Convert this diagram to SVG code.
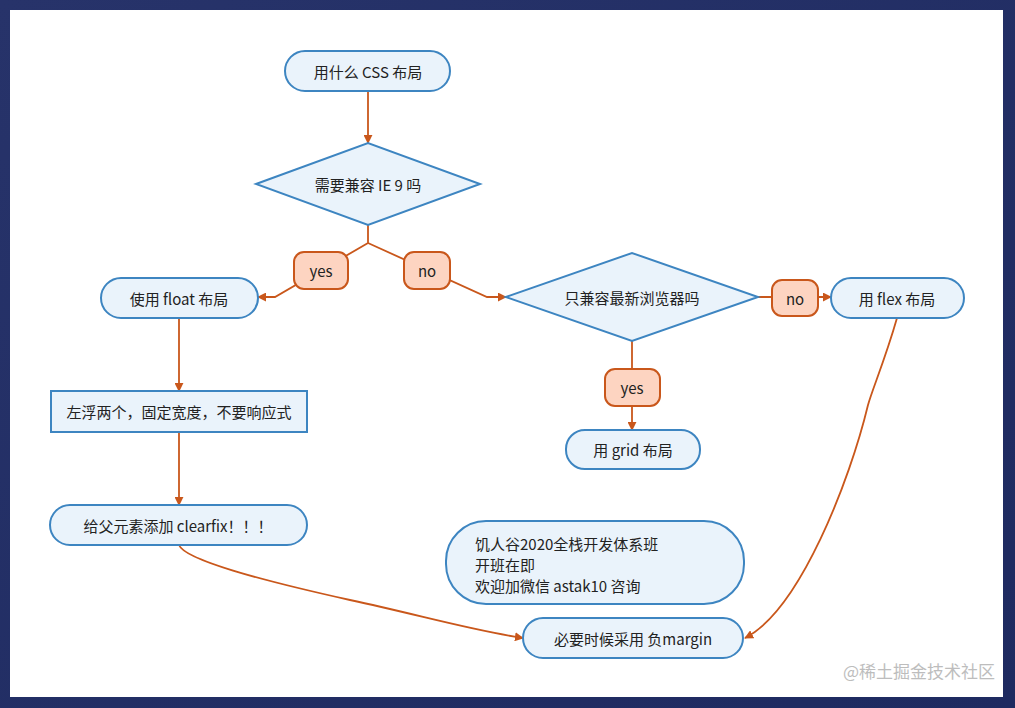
<svg xmlns="http://www.w3.org/2000/svg" width="1015" height="708" viewBox="0 0 1015 708">
<style>
.n{fill:#eaf3fb;stroke:#3d85c1;stroke-width:2}
.l{fill:#fdd4c1;stroke:#c9571b;stroke-width:2}
.t{font-family:"Noto Sans CJK SC","Noto Sans",sans-serif;font-size:15px;fill:#222;text-anchor:middle;dominant-baseline:central}
.c{fill:none;stroke:#c9571b;stroke-width:1.8}
</style>
<defs>
<marker id="a" viewBox="0 0 10 10" refX="9" refY="5" markerWidth="9" markerHeight="9" markerUnits="userSpaceOnUse" orient="auto"><path d="M0,0L10,5L0,10z" fill="#c9571b"/></marker>
<linearGradient id="bg" x1="0" y1="0" x2="1" y2="1"><stop offset="0" stop-color="#27336a"/><stop offset="1" stop-color="#1e2a60"/></linearGradient>
</defs>
<rect width="1015" height="708" fill="url(#bg)"/>
<rect x="10" y="10" width="993" height="687" fill="#fff"/>
<g id="connectors">
<path class="c" d="M368,91V143" marker-end="url(#a)"/>
<path class="c" d="M368,225V243L275,297H258" marker-end="url(#a)"/>
<path class="c" d="M368,243L487,297H506" marker-end="url(#a)"/>
<path class="c" d="M758,297H831" marker-end="url(#a)"/>
<path class="c" d="M632,341V430" marker-end="url(#a)"/>
<path class="c" d="M179,318V391" marker-end="url(#a)"/>
<path class="c" d="M179,432V505" marker-end="url(#a)"/>
<path class="c" d="M179,545C185,560 260,580 350,600C420,615 470,630 523,638" marker-end="url(#a)"/>
<path class="c" d="M897,318C885,360 872,390 868,405C850,480 800,610 745,638" marker-end="url(#a)"/>
</g>
<g id="l-yes1"><rect class="l" x="294" y="252" width="54" height="37" rx="10"/><text class="t" x="321" y="270">yes</text></g>
<g id="l-no1"><rect class="l" x="404" y="252" width="46" height="37" rx="10"/><text class="t" x="427" y="270">no</text></g>
<g id="l-no2"><rect class="l" x="772" y="280" width="46" height="36" rx="10"/><text class="t" x="795" y="298">no</text></g>
<g id="l-yes2"><rect class="l" x="605" y="369" width="55" height="37" rx="10"/><text class="t" x="632" y="387">yes</text></g>
<g id="start"><rect class="n" x="285" y="51" width="165" height="40" rx="20"/><text class="t" x="368" y="71">用什么 CSS 布局</text></g>
<g id="d1"><polygon class="n" points="256,184 368,143 480,184 368,225"/><text class="t" x="368" y="184">需要兼容 IE 9 吗</text></g>
<g id="d2"><polygon class="n" points="506,297 632,253 758,297 632,341"/><text class="t" x="632" y="297">只兼容最新浏览器吗</text></g>
<g id="flex"><rect class="n" x="831" y="278" width="133" height="40" rx="20"/><text class="t" x="897" y="298">用 flex 布局</text></g>
<g id="grid"><rect class="n" x="566" y="430" width="134" height="39" rx="19"/><text class="t" x="633" y="449">用 grid 布局</text></g>
<g id="float"><rect class="n" x="101" y="278" width="157" height="40" rx="20"/><text class="t" x="179" y="298">使用 float 布局</text></g>
<g id="left"><rect class="n" x="51" y="391" width="256" height="41"/><text class="t" x="179" y="411">左浮两个，固定宽度，不要响应式</text></g>
<g id="clear"><rect class="n" x="50" y="505" width="257" height="40" rx="20"/><text class="t" x="178" y="525">给父元素添加 clearfix！！！</text></g>
<g id="note"><rect class="n" x="446" y="521" width="298" height="83" rx="40"/>
<text class="t" style="text-anchor:start" x="475" y="543">饥人谷2020全栈开发体系班</text>
<text class="t" style="text-anchor:start" x="475" y="564">开班在即</text>
<text class="t" style="text-anchor:start" x="475" y="585">欢迎加微信 astak10 咨询</text></g>
<g id="neg"><rect class="n" x="523" y="618" width="220" height="40" rx="20"/><text class="t" x="633" y="638">必要时候采用 负margin</text></g>
<text x="995" y="678" style="font-family:'Noto Sans CJK SC',sans-serif;font-size:17px;fill:#bdbdbd;text-anchor:end">@稀土掘金技术社区</text>
</svg>
